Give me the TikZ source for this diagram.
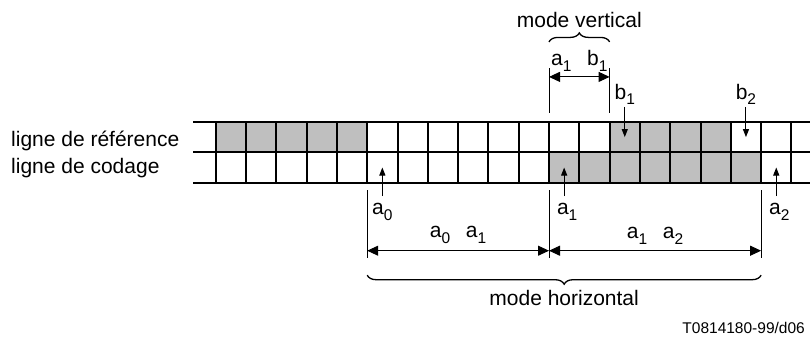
\documentclass[tikz,border=0pt]{standalone}
\usepackage{fontspec}
\setmainfont{Liberation Sans}
\usetikzlibrary{arrows.meta,positioning,calc,decorations.pathreplacing}
\tikzstyle{cell}=[draw,line width=2pt,minimum width=30.3pt,minimum height=30.4pt,inner sep=0pt,outer sep=0pt]
\tikzstyle{rule}=[draw,line width=2pt]
\tikzstyle{ptr}=[draw,line width=1pt,-{Triangle[length=8pt,width=6pt]}]
\tikzstyle{dim}=[draw,line width=1pt,{Triangle[length=11pt,width=10pt]}-{Triangle[length=11pt,width=10pt]}]
\tikzstyle{tick}=[draw,line width=0.8pt]
\tikzstyle{lbl}=[font=\fontsize{21}{24}\selectfont,inner sep=1pt]
\tikzstyle{note}=[font=\fontsize{15.5}{18}\selectfont,inner sep=0pt]
\tikzstyle{brace}=[draw,line width=1.3pt,decorate,decoration={brace,amplitude=9pt}]
\newcommand{\ix}[2]{#1\raisebox{-5.5pt}{\fontsize{15.5}{16}\selectfont #2}}

\begin{document}
\begin{tikzpicture}[x=1pt,y=-1pt]
\useasboundingbox (0,0) rectangle (810,338);
			% First we draw the cells of both lines
			\foreach \i in {0,...,18} {
				\pgfmathsetmacro\rshade{(\i<5 || (\i>12 && \i<17)) ? 25 : 0}
				\pgfmathsetmacro\cshade{(\i>10 && \i<18) ? 25 : 0}
				\node[cell,fill=black!\rshade] (r\i) at ({230.85+30.3*\i},137.1) {};
				\node[cell,fill=black!\cshade] (c\i) at ({230.85+30.3*\i},167.5) {};
			}
			\foreach \y in {122,152.3,182.7}
			\draw[rule] (193,\y) -- (810,\y);

			\node[lbl,anchor=base west,inner sep=0pt] (lref) at (11,146) {ligne de référence};
			\node[lbl,anchor=base west,inner sep=0pt] (lcod) at (11,173.5) {ligne de codage};

			% Pointers under the coding line and over the reference line
			\foreach \name/\cell in {a0/c5, a1/c11, a2/c18} {
				\coordinate (p\name) at ($(\cell.south)+(0,13.5)$);
				\draw[ptr] (p\name) -- (\cell.center);
			}
			\foreach \name/\cell in {b1/r13, b2/r17} {
				\coordinate (p\name) at ($(\cell.north)+(0,-15)$);
				\draw[ptr] (p\name) -- (\cell.center);
			}
			\node[lbl,below=6pt of pa0] (la0) {\ix{a}{0}};
			\node[lbl,below=6pt of pa1,xshift=3pt] (la1) {\ix{a}{1}};
			\node[lbl,below=6pt of pa2,xshift=3pt] (la2) {\ix{a}{2}};
			\node[lbl,above=1pt of pb1] (lb1) {\ix{b}{1}};
			\node[lbl,above=1pt of pb2] (lb2) {\ix{b}{2}};

			% Horizontal mode: a0 a1 and a1 a2
			\foreach \name/\cell in {h0/c5, h1/c11, h2/c18} {
				\coordinate (\name) at ($(\cell.south west)+(0,7.5)$);
				\coordinate (\name e) at ($(\cell.south west)+(0,75.5)$);
				\coordinate (\name d) at ($(\cell.south west)+(0,68)$);
				\draw[tick] (\name) -- (\name e);
			}
			\path[dim] (h0d) -- node[lbl,above=6pt] (la0a1) {\ix{a}{0}\hspace{0.75em}\ix{a}{1}} (h1d);
			\path[dim] (h1d) -- node[lbl,above=5pt] (la1a2) {\ix{a}{1}\hspace{0.75em}\ix{a}{2}} (h2d);
			\coordinate (bh0) at ($(h0)+(0,85)$);
			\coordinate (bh2) at ($(h2)+(0,85)$);
			\draw[brace,decoration={mirror}] (bh0) -- node[lbl,below=13pt] (mh) {mode horizontal} (bh2);

			% Vertical mode: a1 b1
			\foreach \name/\cell in {v0/r11, v1/r13} {
				\coordinate (\name) at ($(\cell.north west)+(0,-9)$);
				\coordinate (\name e) at ($(\cell.north west)+(0,-54)$);
				\coordinate (\name d) at ($(\cell.north west)+(0,-45)$);
				\draw[tick] (\name) -- (\name e);
			}
			\path[dim] (v0d) -- node[lbl,above=4pt] (la1b1) {\ix{a}{1}\hspace{0.75em}\ix{b}{1}} (v1d);
			\coordinate (bv0) at ($(v0)+(0,-71)$);
			\coordinate (bv1) at ($(v1)+(0,-71)$);
			\draw[brace] (bv0) -- node[lbl,above=13pt] (mv) {mode vertical} (bv1);

			\node[note,anchor=base east] (ref) at (805,333.5) {T0814180-99/d06};
\end{tikzpicture}
\end{document}
